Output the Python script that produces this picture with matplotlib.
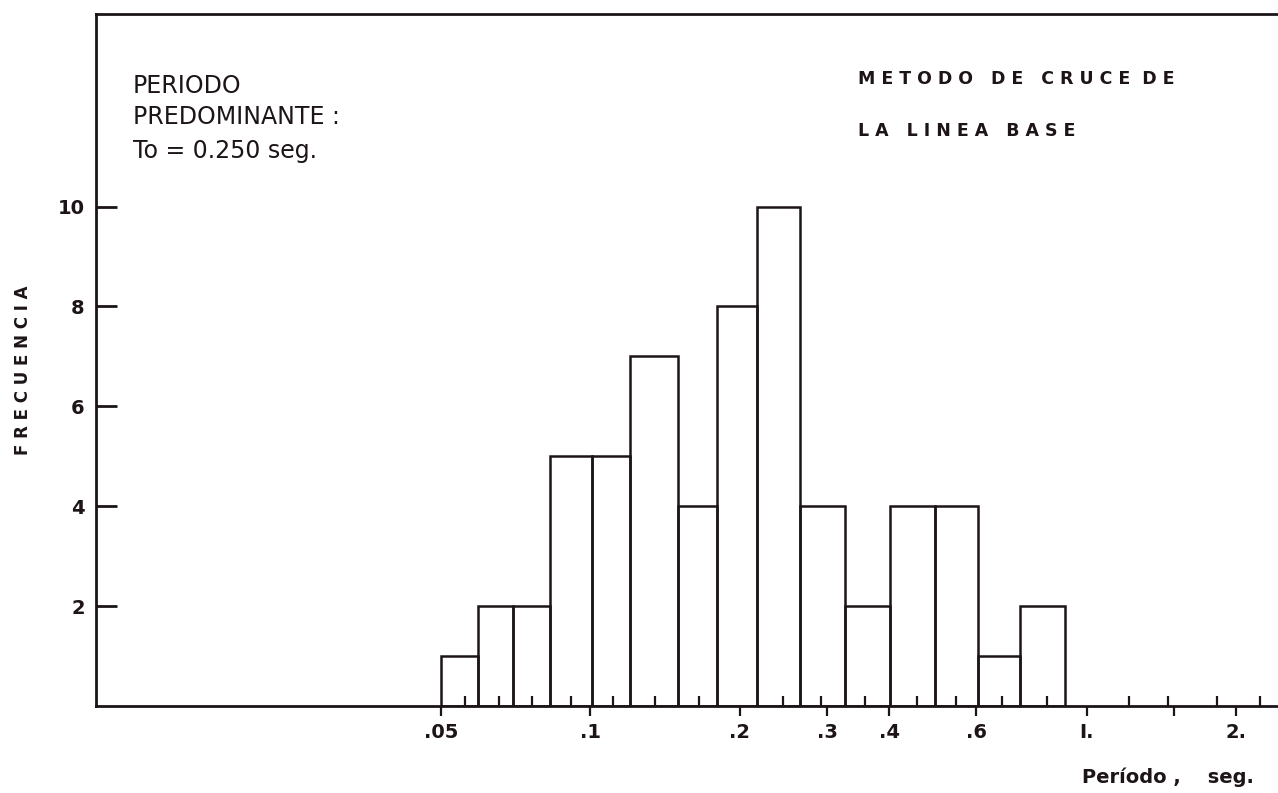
import matplotlib
matplotlib.use("Agg")
import matplotlib.pyplot as plt
from matplotlib.ticker import FixedLocator, FixedFormatter, NullFormatter

bin_edges = [0.050, 0.0594, 0.0698, 0.083, 0.1008, 0.120, 0.150, 0.180,
             0.217, 0.265, 0.326, 0.402, 0.495, 0.605, 0.735, 0.906]
frecuencias = [1, 2, 2, 5, 5, 7, 4, 8, 10, 4, 2, 4, 4, 1, 2]

# marcas de clase (ticks pequenos hacia arriba)
marcas_clase = [0.0559, 0.0654, 0.0763, 0.0914, 0.111, 0.135, 0.166, 0.2,
                0.245, 0.292, 0.358, 0.456, 0.546, 0.676, 0.833, 1.0,
                1.22, 1.46, 1.83, 2.24]

x_ticks = [0.05, 0.1, 0.2, 0.3, 0.4, 0.6, 1.0, 1.5, 2.0]
x_labels = [".05", ".1", ".2", ".3", ".4", ".6", "I.", "", "2."]
y_ticks = [2, 4, 6, 8, 10]

ink = "#1c1418"

fig = plt.figure(figsize=(12.78, 7.93), dpi=100)
ax = fig.add_axes([0.0751, 0.1097, 0.9249, 0.8723])

lefts = bin_edges[:-1]
widths = [b - a for a, b in zip(bin_edges[:-1], bin_edges[1:])]
ax.bar(lefts, frecuencias, width=widths, align="edge", fill=False,
       edgecolor=ink, linewidth=1.8)

ax.set_xscale("log")
ax.set_xlim(0.0101, 2.43)
ax.set_ylim(0, 13.85)

ax.xaxis.set_major_locator(FixedLocator(x_ticks))
ax.xaxis.set_major_formatter(FixedFormatter(x_labels))
ax.xaxis.set_minor_locator(FixedLocator(marcas_clase))
ax.xaxis.set_minor_formatter(NullFormatter())
ax.tick_params(axis="x", which="major", direction="out", length=7, width=1.6,
               color=ink, labelcolor=ink, labelsize=14, pad=5)
ax.tick_params(axis="x", which="minor", direction="in", length=7, width=1.6,
               color=ink)
for lbl in ax.get_xticklabels():
    lbl.set_fontweight("bold")

ax.set_yticks(y_ticks)
ax.set_yticklabels([str(v) for v in y_ticks], fontweight="bold")
ax.tick_params(axis="y", which="major", direction="in", length=15, width=2,
               color=ink, labelcolor=ink, labelsize=14, pad=8)
ax.tick_params(axis="y", which="minor", length=0)

for side in ["left", "bottom", "top"]:
    ax.spines[side].set_linewidth(2)
    ax.spines[side].set_color(ink)
ax.spines["right"].set_visible(False)

fig.text(0.018, 0.533, "F R E C U E N C I A", rotation=90, ha="center",
         va="center", fontsize=12, fontweight="bold", color=ink)
fig.text(0.847, 0.013, "Período ,    seg.", ha="left", va="baseline",
         fontsize=14, fontweight="bold", color=ink)

fig.text(0.104, 0.883, "PERIODO", fontsize=17, color=ink, va="baseline")
fig.text(0.104, 0.844, "PREDOMINANTE :", fontsize=17, color=ink,
         va="baseline")
fig.text(0.104, 0.801, "To = 0.250 seg.", fontsize=17, color=ink,
         va="baseline")

fig.text(0.671, 0.894, "M E T O D O   D E   C R U C E  D E", fontsize=12.5,
         fontweight="bold", color=ink, va="baseline")
fig.text(0.671, 0.829, "L A   L I N E A   B A S E", fontsize=12.5,
         fontweight="bold", color=ink, va="baseline")

fig.savefig("out.png", dpi=100, facecolor="white")
